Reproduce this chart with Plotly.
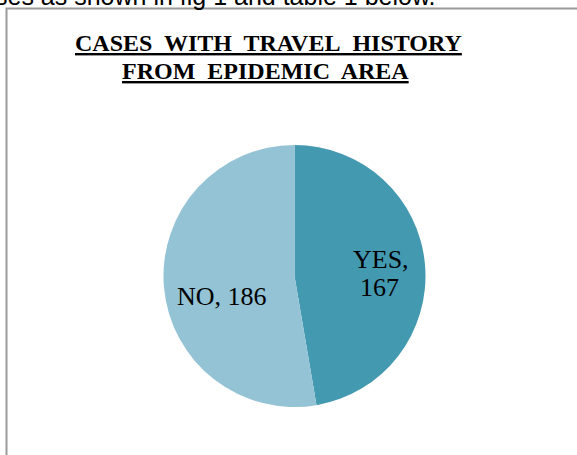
import plotly.graph_objects as go

labels = ["YES", "NO"]
values = [167, 186]
colors = ["#4399B0", "#93C3D4"]
title_lines = ["CASES&nbsp; WITH&nbsp; TRAVEL&nbsp; HISTORY", "FROM&nbsp; EPIDEMIC&nbsp; AREA"]
caption = "ses as shown in fig 1 and table 1 below."

W, H = 577, 455

def px(x):
    return x / W

def py(y):
    return 1 - y / H

fig = go.Figure(go.Pie(
    labels=labels,
    values=values,
    marker=dict(colors=colors, line=dict(width=0)),
    sort=False,
    direction="clockwise",
    rotation=0,
    textinfo="none",
    hoverinfo="label+value",
    showlegend=False,
    domain=dict(x=[px(163.5), px(425.5)], y=[py(407), py(145)]),
))

serif = "Liberation Serif"
ann = []
# caption fragment at the top (cut off by the page edge)
ann.append(dict(text=caption, x=px(-7), y=py(12), xanchor="left", yanchor="bottom",
                showarrow=False, font=dict(family="Liberation Sans", size=25, color="#000")))
# title
ann.append(dict(text="<b><u>" + title_lines[0] + "</u></b>", x=px(268), y=py(43), xanchor="center",
                yanchor="middle", showarrow=False, font=dict(family=serif, size=24, color="#000")))
ann.append(dict(text="<b><u>" + title_lines[1] + "</u></b>", x=px(265), y=py(71), xanchor="center",
                yanchor="middle", showarrow=False, font=dict(family=serif, size=24, color="#000")))
# slice labels
ann.append(dict(text=f"{labels[0]},", x=px(381), y=py(259), xanchor="center", yanchor="middle",
                showarrow=False, font=dict(family=serif, size=26, color="#000")))
ann.append(dict(text=f"{values[0]}", x=px(379), y=py(287), xanchor="center", yanchor="middle",
                showarrow=False, font=dict(family=serif, size=26, color="#000")))
ann.append(dict(text=f"{labels[1]}, {values[1]}", x=px(222), y=py(296), xanchor="center", yanchor="middle",
                showarrow=False, font=dict(family=serif, size=26, color="#000")))

fig.update_layout(
    width=W, height=H,
    margin=dict(l=0, r=0, t=0, b=0),
    paper_bgcolor="white",
    plot_bgcolor="white",
    annotations=ann,
    shapes=[dict(type="rect", xref="paper", yref="paper",
                 x0=px(6.5), x1=px(600), y0=py(500), y1=py(8.5),
                 line=dict(color="#9a9a9a", width=2), fillcolor="rgba(0,0,0,0)")],
)

fig.write_html("out.html", config={"displayModeBar": False},
               post_script="document.body.style.margin='0';document.body.style.overflow='hidden';")
